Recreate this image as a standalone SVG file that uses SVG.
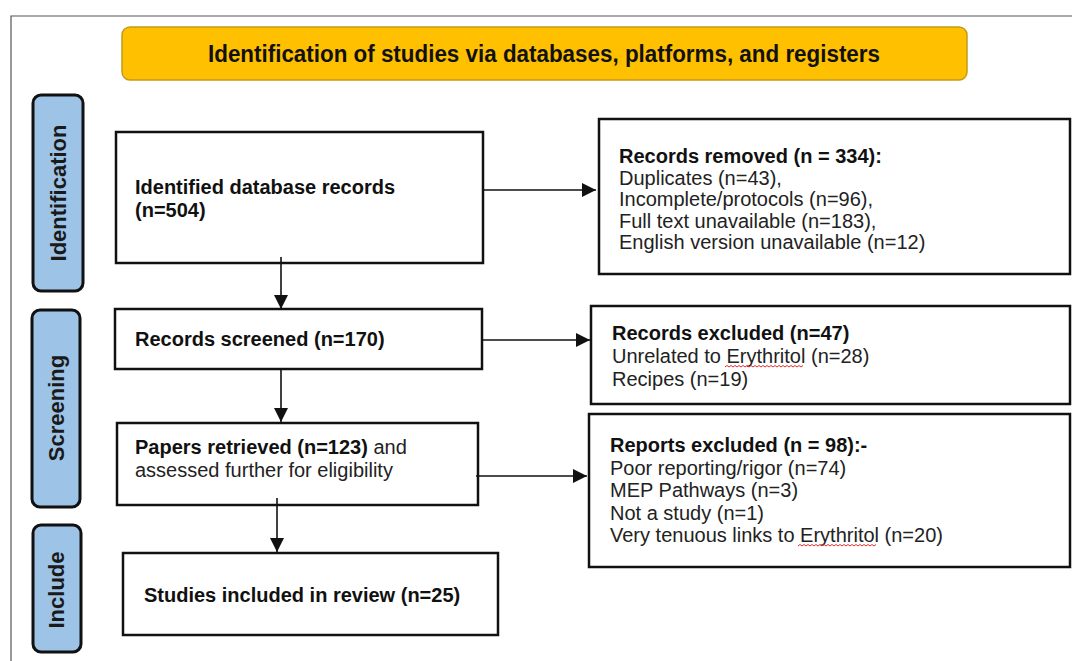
<svg xmlns="http://www.w3.org/2000/svg" width="1072" height="661" viewBox="0 0 1072 661">
<style>
.box{fill:#fff;stroke:#111;stroke-width:2.5}
.lab{fill:#9DC3E6;stroke:#111;stroke-width:3}
.lt{font-family:"Liberation Sans",Arial,sans-serif;font-weight:bold;font-size:22px;fill:#1a1a1a;text-anchor:middle}
.b{font-family:"Liberation Sans",Arial,sans-serif;font-weight:bold;font-size:20px;fill:#111}
.r{font-family:"Liberation Sans",Arial,sans-serif;font-size:20px;fill:#222}
.con{stroke:#111;stroke-width:1.6;fill:none}
.sq{stroke:#e03030;stroke-width:1;fill:none}
</style>
<defs>
<marker id="ah" viewBox="0 0 10 10" refX="10" refY="5" markerWidth="14" markerHeight="14" markerUnits="userSpaceOnUse" orient="auto">
<path d="M0,0 L10,5 L0,10 z" fill="#111"/>
</marker>
</defs>
<rect x="0" y="0" width="1072" height="661" fill="#fff"/>
<path d="M11,661 V16 H1072" fill="none" stroke="#555" stroke-width="1.2"/>

<g id="title">
<rect x="122" y="27" width="845" height="53" rx="8" fill="#FFC000" stroke="#C49A1C" stroke-width="1.5"/>
<text x="544" y="62" class="b" style="font-size:23px;text-anchor:middle" textLength="672" lengthAdjust="spacingAndGlyphs">Identification of studies via databases, platforms, and registers</text>
</g>

<g id="label-identification">
<rect class="lab" x="33" y="95" width="50" height="196" rx="8"/>
<text class="lt" transform="translate(66,193) rotate(-90)">Identification</text>
</g>
<g id="label-screening">
<rect class="lab" x="32" y="310" width="48" height="197" rx="8"/>
<text class="lt" transform="translate(64,408) rotate(-90)">Screening</text>
</g>
<g id="label-include">
<rect class="lab" x="33" y="525" width="48" height="127" rx="8"/>
<text class="lt" transform="translate(64,590) rotate(-90)">Include</text>
</g>

<g id="identified">
<rect class="box" x="116" y="132" width="367" height="131"/>
<text class="b" x="135" y="194">Identified database records</text>
<text class="b" x="135" y="217">(n=504)</text>
</g>

<g id="removed">
<rect class="box" x="599" y="119" width="471" height="155"/>
<text class="b" x="619" y="163">Records removed (n = 334):</text>
<text class="r" x="619" y="184.5">Duplicates (n=43),</text>
<text class="r" x="619" y="206">Incomplete/protocols (n=96),</text>
<text class="r" x="619" y="227.5">Full text unavailable  (n=183),</text>
<text class="r" x="619" y="249">English version unavailable  (n=12)</text>
</g>

<g id="screened">
<rect class="box" x="115" y="309" width="367" height="60"/>
<text class="b" x="135" y="346">Records screened (n=170)</text>
</g>

<g id="excluded">
<rect class="box" x="591" y="306" width="479" height="98"/>
<text class="b" x="612" y="340">Records excluded (n=47)</text>
<text class="r" x="612" y="363">Unrelated to Erythritol (n=28)</text>
<text class="r" x="612" y="386">Recipes (n=19)</text>
<path class="sq" d="M725,367 l2,-1.5 l2,1.5 l2,-1.5 l2,1.5 l2,-1.5 l2,1.5 l2,-1.5 l2,1.5 l2,-1.5 l2,1.5 l2,-1.5 l2,1.5 l2,-1.5 l2,1.5 l2,-1.5 l2,1.5 l2,-1.5 l2,1.5 l2,-1.5 l2,1.5 l2,-1.5 l2,1.5 l2,-1.5 l2,1.5 l2,-1.5 l2,1.5 l2,-1.5 l2,1.5 l2,-1.5 l2,1.5 l2,-1.5 l2,1.5 l2,-1.5 l2,1.5 l2,-1.5 l2,1.5 l2,-1.5 l2,1.5 l2,-1.5"/>
</g>

<g id="papers">
<rect class="box" x="117" y="423" width="361" height="82"/>
<text x="135" y="454"><tspan class="b">Papers retrieved (n=123)</tspan><tspan class="r"> and</tspan></text>
<text class="r" x="135" y="477">assessed further for eligibility</text>
</g>

<g id="reports">
<rect class="box" x="589" y="414" width="481" height="153"/>
<text class="b" x="610" y="452">Reports excluded (n = 98):-</text>
<text class="r" x="610" y="474.5">Poor reporting/rigor (n=74)</text>
<text class="r" x="610" y="497">MEP Pathways  (n=3)</text>
<text class="r" x="610" y="519.5">Not a study (n=1)</text>
<text class="r" x="610" y="542">Very tenuous links to Erythritol (n=20)</text>
<path class="sq" d="M798,546 l2,-1.5 l2,1.5 l2,-1.5 l2,1.5 l2,-1.5 l2,1.5 l2,-1.5 l2,1.5 l2,-1.5 l2,1.5 l2,-1.5 l2,1.5 l2,-1.5 l2,1.5 l2,-1.5 l2,1.5 l2,-1.5 l2,1.5 l2,-1.5 l2,1.5 l2,-1.5 l2,1.5 l2,-1.5 l2,1.5 l2,-1.5 l2,1.5 l2,-1.5 l2,1.5 l2,-1.5 l2,1.5 l2,-1.5 l2,1.5 l2,-1.5 l2,1.5 l2,-1.5 l2,1.5 l2,-1.5 l2,1.5 l2,-1.5"/>
</g>

<g id="studies">
<rect class="box" x="123" y="553" width="375" height="82"/>
<text class="b" x="144" y="602">Studies included in review (n=25)</text>
</g>

<g id="connectors">
<line class="con" x1="483" y1="190" x2="596" y2="190" marker-end="url(#ah)"/>
<line class="con" x1="281" y1="257" x2="281" y2="309" marker-end="url(#ah)"/>
<line class="con" x1="482" y1="340" x2="590" y2="340" marker-end="url(#ah)"/>
<line class="con" x1="281" y1="369" x2="281" y2="422" marker-end="url(#ah)"/>
<line class="con" x1="476" y1="476" x2="587" y2="476" marker-end="url(#ah)"/>
<line class="con" x1="277" y1="498" x2="277" y2="552" marker-end="url(#ah)"/>
</g>
</svg>
